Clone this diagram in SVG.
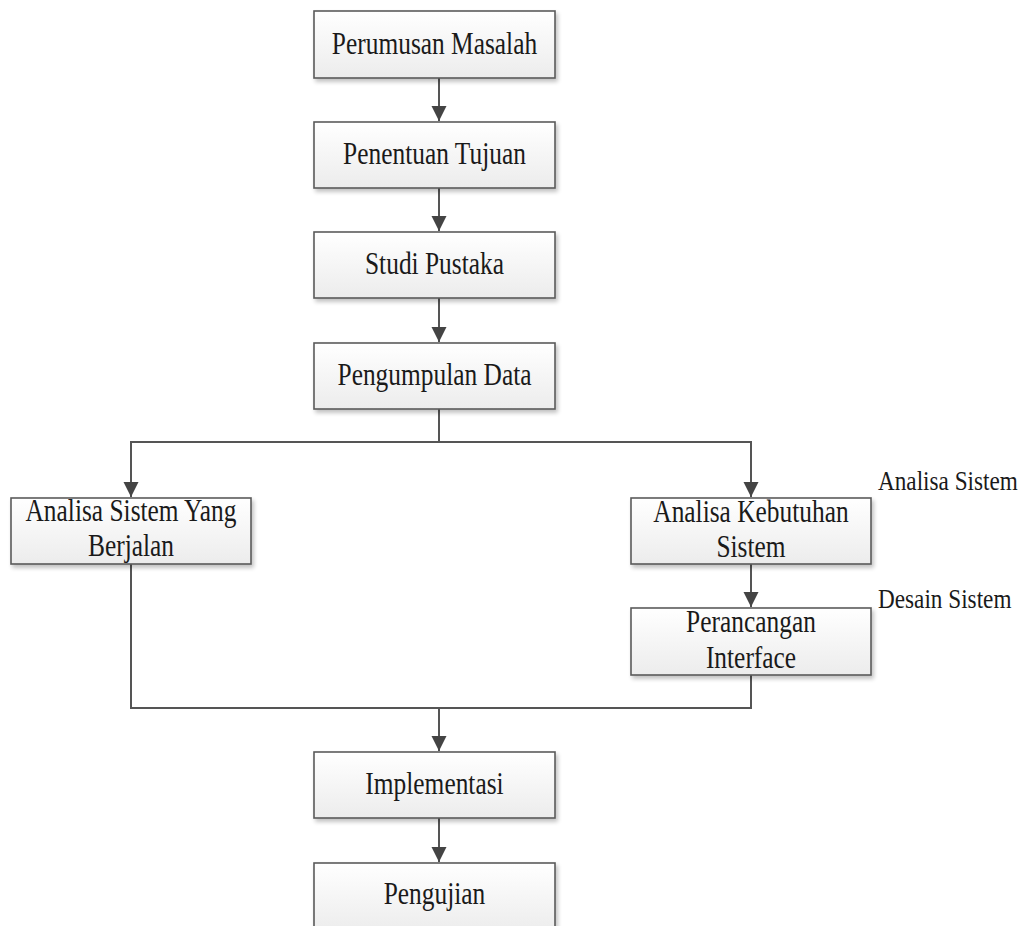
<svg xmlns="http://www.w3.org/2000/svg" width="1023" height="926" viewBox="0 0 1023 926">
<style>
.box{fill:url(#g);stroke:#5a5a5a;stroke-width:1.6;filter:url(#sh)}
.t{font-family:"Liberation Serif","Times New Roman",serif;font-size:31px;fill:#1a1a1a;text-anchor:middle}
.lbl{font-family:"Liberation Serif","Times New Roman",serif;font-size:27px;fill:#1a1a1a}
.c{fill:none;stroke:#555;stroke-width:2}
</style>
<defs>
<linearGradient id="g" x1="0" y1="0" x2="0" y2="1">
<stop offset="0" stop-color="#ffffff"/>
<stop offset="1" stop-color="#ececec"/>
</linearGradient>
<filter id="sh" x="-10%" y="-20%" width="130%" height="150%">
<feGaussianBlur in="SourceAlpha" stdDeviation="2"/>
<feOffset dx="2" dy="3" result="b"/>
<feComponentTransfer><feFuncA type="linear" slope="0.25"/></feComponentTransfer>
<feMerge><feMergeNode/><feMergeNode in="SourceGraphic"/></feMerge>
</filter>
<marker id="ah" markerWidth="15" markerHeight="18" refX="14" refY="7" orient="auto" markerUnits="userSpaceOnUse" viewBox="0 0 14 14">
<path d="M0,0 L14,7 L0,14 Z" fill="#444"/>
</marker>
</defs>
<rect width="1023" height="926" fill="#fff"/>
<g id="connectors">
<line class="c" x1="439" y1="78" x2="439" y2="121" marker-end="url(#ah)"/>
<line class="c" x1="439" y1="188" x2="439" y2="231" marker-end="url(#ah)"/>
<line class="c" x1="439" y1="298" x2="439" y2="342" marker-end="url(#ah)"/>
<polyline class="c" points="439,409 439,442"/>
<polyline class="c" points="131,497 131,442 751,442 751,497" />
<line class="c" x1="131" y1="470" x2="131" y2="497" marker-end="url(#ah)"/>
<line class="c" x1="751" y1="470" x2="751" y2="497" marker-end="url(#ah)"/>
<line class="c" x1="751" y1="564" x2="751" y2="607" marker-end="url(#ah)"/>
<polyline class="c" points="131,564 131,708 751,708 751,675"/>
<line class="c" x1="439" y1="708" x2="439" y2="751" marker-end="url(#ah)"/>
<line class="c" x1="439" y1="818" x2="439" y2="862" marker-end="url(#ah)"/>
</g>
<g id="n1"><rect class="box" x="314" y="11" width="241" height="67"/><text class="t" transform="matrix(0.82 0 0 1 434.5 0)" x="0" y="54">Perumusan Masalah</text></g>
<g id="n2"><rect class="box" x="314" y="122" width="241" height="66"/><text class="t" transform="matrix(0.82 0 0 1 434.5 0)" x="0" y="164">Penentuan Tujuan</text></g>
<g id="n3"><rect class="box" x="314" y="232" width="241" height="66"/><text class="t" transform="matrix(0.82 0 0 1 434.5 0)" x="0" y="274">Studi Pustaka</text></g>
<g id="n4"><rect class="box" x="314" y="343" width="241" height="66"/><text class="t" transform="matrix(0.82 0 0 1 434.5 0)" x="0" y="385">Pengumpulan Data</text></g>
<g id="n5"><rect class="box" x="11" y="498" width="240" height="66"/><text class="t" transform="matrix(0.82 0 0 1 131 0)" x="0" y="521">Analisa Sistem Yang</text><text class="t" transform="matrix(0.82 0 0 1 131 0)" x="0" y="556">Berjalan</text></g>
<g id="n6"><rect class="box" x="631" y="498" width="240" height="66"/><text class="t" transform="matrix(0.82 0 0 1 751 0)" x="0" y="522">Analisa Kebutuhan</text><text class="t" transform="matrix(0.82 0 0 1 751 0)" x="0" y="557">Sistem</text></g>
<g id="n7"><rect class="box" x="631" y="608" width="240" height="67"/><text class="t" transform="matrix(0.82 0 0 1 751 0)" x="0" y="632">Perancangan</text><text class="t" transform="matrix(0.82 0 0 1 751 0)" x="0" y="668">Interface</text></g>
<g id="n8"><rect class="box" x="314" y="752" width="241" height="66"/><text class="t" transform="matrix(0.82 0 0 1 434.5 0)" x="0" y="794">Implementasi</text></g>
<g id="n9"><rect class="box" x="314" y="863" width="241" height="70"/><text class="t" transform="matrix(0.82 0 0 1 434.5 0)" x="0" y="904">Pengujian</text></g>
<g id="labels">
<text class="lbl" transform="matrix(0.86 0 0 1 878 0)" x="0" y="490">Analisa Sistem</text>
<text class="lbl" transform="matrix(0.86 0 0 1 878 0)" x="0" y="608">Desain Sistem</text>
</g>
</svg>
